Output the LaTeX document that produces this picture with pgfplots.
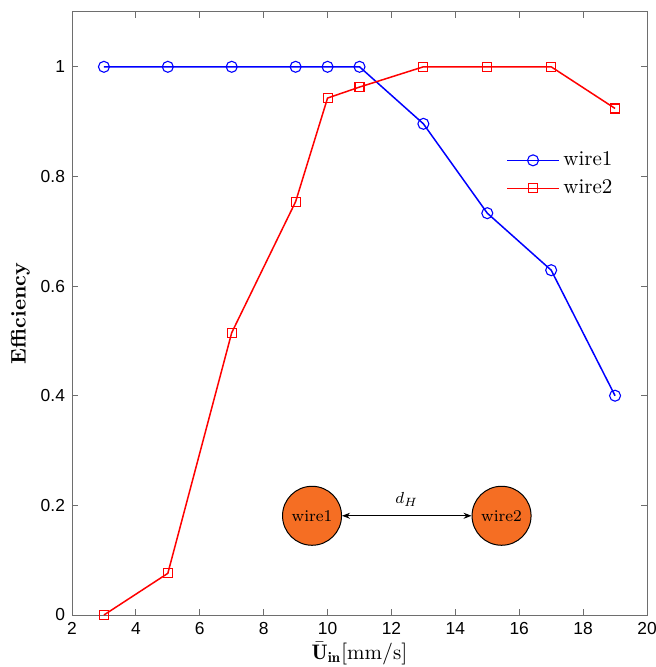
\documentclass[border=0pt]{standalone}
\usepackage{pgfplots}
\pgfplotsset{compat=1.18}
\usepackage{fontspec}
\setsansfont{Liberation Sans}
\usetikzlibrary{arrows.meta}
\definecolor{wireorange}{RGB}{245,110,35}
\definecolor{axisgray}{RGB}{110,110,110}

\begin{document}
\begin{tikzpicture}
\begin{axis}[
  scale only axis,
  width=287.5pt, height=301.5pt,
  xmin=2, xmax=20, ymin=0, ymax=1.1,
  xtick={2,4,6,8,10,12,14,16,18,20},
  ytick={0,0.2,0.4,0.6,0.8,1},
  tick align=inside,
  major tick length=3pt,
  axis line style={axisgray, line width=0.5pt},
  every tick/.style={axisgray, line width=0.5pt},
  ticklabel style={font=\sffamily\fontsize{8.7}{10}\selectfont,
                   /pgf/number format/assume math mode=true},
  xlabel={$\bar{\mathbf{U}}_{\mathbf{in}}[\mathrm{mm/s}]$},
  ylabel={\textbf{Efficiency}},
  label style={font=\fontsize{10.5}{12}\selectfont},
  xlabel style={at={(axis description cs:0.5,-0.064)}, anchor=center},
  ylabel style={at={(axis description cs:-0.09,0.5)}, anchor=center},
  legend style={at={(rel axis cs:0.958,0.782)}, anchor=north east,
                draw=none, fill=none,
                font=\fontsize{10.5}{12}\selectfont, row sep=1.5pt},
  legend cell align=left,
  legend image code/.code={%
    \draw[mark repeat=2, mark phase=2]
      plot coordinates {(0cm,0cm) (0.45cm,0cm) (0.9cm,0cm)};},
]
% efficiency of the upstream wire
\addplot[blue, line width=0.75pt, mark=o, mark size=2.75pt,
         mark options={solid, line width=0.55pt}]
  coordinates {(3,1) (5,1) (7,1) (9,1) (10,1) (11,1)
               (13,0.896) (15,0.733) (17,0.629) (19,0.400)};
\addlegendentry{wire1}
% efficiency of the downstream wire
\addplot[red, line width=0.75pt, mark=square, mark size=2.25pt,
         mark options={solid, line width=0.55pt}]
  coordinates {(3,0) (5,0.076) (7,0.515) (9,0.754) (10,0.943) (11,0.963)
               (13,1) (15,1) (17,1) (19,0.924)};
\addlegendentry{wire2}

% sketch of the two wires and their spacing
\node[circle, draw=black, line width=0.5pt, fill=wireorange, minimum size=29.5pt,
      inner sep=0pt, font=\fontsize{8.2}{9}\selectfont] (w1)
  at (axis cs:9.514,0.181) {wire1};
\node[circle, draw=black, line width=0.5pt, fill=wireorange, minimum size=29.5pt,
      inner sep=0pt, font=\fontsize{8.2}{9}\selectfont] (w2)
  at (axis cs:15.447,0.181) {wire2};
\draw[{Stealth[length=4pt]}-{Stealth[length=4pt]}, line width=0.5pt]
  (w1.east) -- (w2.west)
  node[midway, above=1pt, font=\fontsize{8.5}{9}\selectfont] {$d_H$};
\end{axis}
\pgfresetboundingbox
\path (-36pt,-26pt) rectangle (292pt,307.5pt);
\end{tikzpicture}
\end{document}
